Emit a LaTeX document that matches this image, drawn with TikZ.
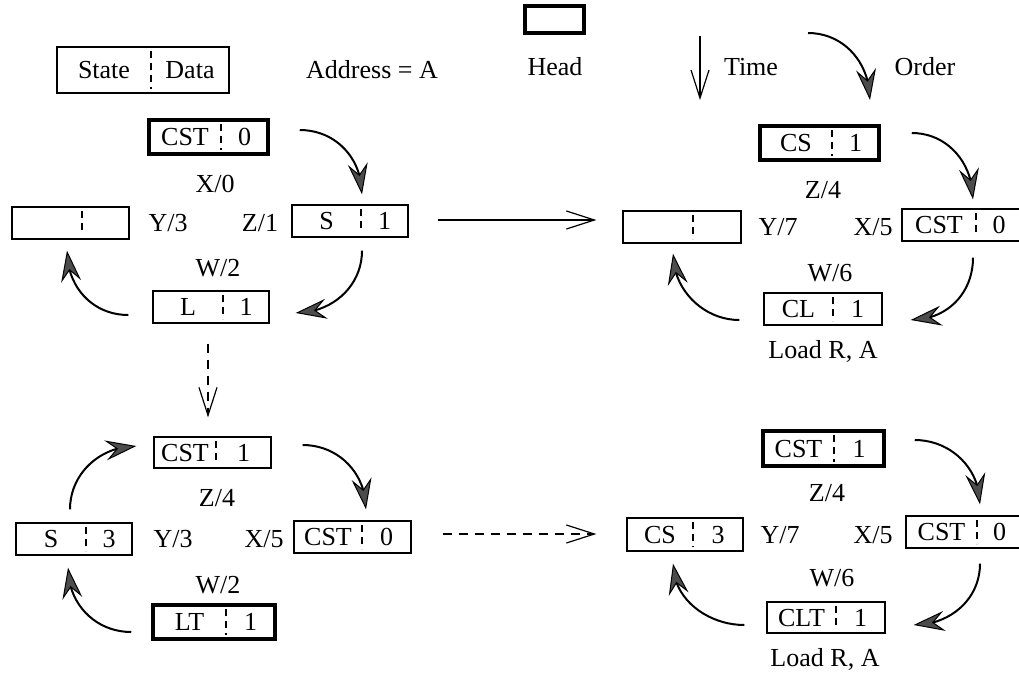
\documentclass[tikz,border=0pt]{standalone}
\usepackage{fontspec}
\setmainfont{Liberation Serif}
\usetikzlibrary{arrows.meta,bending,calc}

\tikzset{
  lbl/.style={font=\fontsize{26}{30}\selectfont, inner sep=0pt, text height=17pt, text depth=0pt},
  cell/.style={draw, line width=1.3pt, inner sep=0pt},
  headcell/.style={draw, line width=3.5pt, inner sep=0pt},
  divider/.style={line width=1.3pt, dash pattern=on 7pt off 5pt},
  cyc/.style={line width=2pt, -{Stealth[length=31pt,width=20pt,inset=11pt,fill=black!70,line width=1pt]}},
  flow/.style={line width=1.2pt, -{Straight Barb[length=28pt,width=18pt,line width=1.2pt]}},
  dflow/.style={flow, dash pattern=on 9pt off 7pt},
}

% cell: style, name, (left, right, top, bottom, divider x), state text, data text
\def\cellbox#1#2(#3,#4,#5,#6,#7)#8#9{%
  \node[#1, minimum width={#4-#3}, minimum height={#6-#5}] (#2) at ({(#3+#4)/2},{(#5+#6)/2}) {};
  \draw[divider] ({#7},{#5+4}) -- ({#7},{#6-4});
  \node[lbl] (#2-s) at ({(#3+#7)/2},{(#5+#6)/2}) {#8};
  \node[lbl] (#2-d) at ({(#7+#4)/2},{(#5+#6)/2}) {#9};
}

\begin{document}
\begin{tikzpicture}[x=1pt,y=-1pt]
\useasboundingbox (0,0) rectangle (1019,673);

% ---- key ----
\cellbox{cell}{legend}(57,229,47,93,151){State}{Data}
\node[lbl] (addr) at (372,70) {Address = A};
\node[headcell, minimum width=59, minimum height=27] (headbox) at (554.5,19.5) {};
\node[lbl] (headlbl) at (555,67) {Head};
\coordinate (time-s) at (700,36);
\coordinate (time-e) at (700,100);
\draw[flow] (time-s) -- (time-e);
\node[lbl] (timelbl) at (751,67) {Time};
\coordinate (ord-s) at (808,33);
\coordinate (ord-e) at (870,100);
\draw[cyc] (ord-s) .. controls +(36,0) and +(0,-37) .. (ord-e);
\node[lbl] (ordlbl) at (925,67) {Order};

% ---- ring 1 ----
\cellbox{headcell}{t1}(149,268,120,154,221){CST}{0}
\cellbox{cell}{l1}(12,129,207,239,82){}{}
\cellbox{cell}{r1}(292,408,205,237,361){S}{1}
\cellbox{cell}{b1}(153,269,291,323,223){L}{1}
\node[lbl] (x1) at (215,184) {X/0};
\node[lbl] (y1) at (168,223) {Y/3};
\node[lbl] (z1) at (260,223) {Z/1};
\node[lbl] (w1) at (218,268) {W/2};
\draw[cyc] ($(t1.east)+(30,-7)$) .. controls +(36,0) and +(0,-36) .. ($(r1.north)+(12,-10)$);
\draw[cyc] ($(r1.south)+(12,13)$) .. controls +(0,36) and +(36,0) .. ($(b1.east)+(26,6)$);
\draw[cyc] ($(b1.west)+(-24,8)$) .. controls +(-36,0) and +(0,36) .. ($(l1.south)+(-3.5,11)$);

% ---- ring 2 ----
\cellbox{headcell}{t2}(760,879,126,160,832){CS}{1}
\cellbox{cell}{l2}(623,741,211,243,693){}{}
\cellbox{cell}{r2}(902,1022,209,241,976){CST}{0}
\cellbox{cell}{b2}(764,882,293,325,833){CL}{1}
\node[lbl] (z2) at (823,190) {Z/4};
\node[lbl] (y2) at (778,227) {Y/7};
\node[lbl] (x2) at (873,227) {X/5};
\node[lbl] (w2) at (830,273) {W/6};
\node[lbl] (ld2) at (823,350) {Load R, A};
\draw[cyc] ($(t2.east)+(31,-10)$) .. controls +(36,0) and +(0,-36) .. ($(r2.north)+(11,-9)$);
\draw[cyc] ($(r2.south)+(11,16)$) .. controls +(0,36) and +(36,0) .. ($(b2.east)+(28,11)$);
\draw[cyc] ($(b2.west)+(-24,11)$) .. controls +(-36,0) and +(0,36) .. ($(l2.south)+(-9,10)$);

% ---- ring 3 ----
\cellbox{cell}{t3}(154,271,437,468,216){CST}{1}
\cellbox{cell}{l3}(16,132,523,555,86){S}{3}
\cellbox{cell}{r3}(294,411,521,553,362){CST}{0}
\cellbox{headcell}{b3}(153,275,605,639,226){LT}{1}
\node[lbl] (z3) at (217,498) {Z/4};
\node[lbl] (y3) at (173,539) {Y/3};
\node[lbl] (x3) at (264,539) {X/5};
\node[lbl] (w3) at (218,585) {W/2};
\draw[cyc] ($(l3.north)+(-4,-13)$) .. controls +(0,-36) and +(-36,0) .. ($(t3.west)+(-17,-6.5)$);
\draw[cyc] ($(t3.east)+(31,-7.5)$) .. controls +(36,0) and +(0,-36) .. ($(r3.north)+(13.5,-11)$);
\draw[cyc] ($(b3.west)+(-20,10)$) .. controls +(-36,0) and +(0,36) .. ($(l3.south)+(-6,12)$);

% ---- ring 4 ----
\cellbox{headcell}{t4}(763,884,431,466,834){CST}{1}
\cellbox{cell}{l4}(627,743,518,551,693){CS}{3}
\cellbox{cell}{r4}(906,1022,516,548,977){CST}{0}
\cellbox{cell}{b4}(767,885,602,633,836){CLT}{1}
\node[lbl] (z4) at (827,493) {Z/4};
\node[lbl] (y4) at (780,535) {Y/7};
\node[lbl] (x4) at (873,535) {X/5};
\node[lbl] (w4) at (832,578) {W/6};
\node[lbl] (ld4) at (825,658) {Load R, A};
\draw[cyc] ($(t4.east)+(29,-8.5)$) .. controls +(36,0) and +(0,-36) .. ($(r4.north)+(16,-11)$);
\draw[cyc] ($(r4.south)+(16,15)$) .. controls +(0,36) and +(36,0) .. ($(b4.east)+(28,7.5)$);
\draw[cyc] ($(b4.west)+(-22,7.5)$) .. controls +(-36,0) and +(0,36) .. ($(l4.south)+(-12,12)$);

% ---- transitions between rings ----
\draw[flow] ($(r1.east)+(29,-1)$) -- ($(r1.east -| l2.west)+(-26,-1)$);
\draw[dflow] ($(b1.south)+(-3,20)$) -- ($(b1.south |- t3.north)+(-3,-19)$);
\draw[dflow] ($(r3.east)+(31,-3)$) -- ($(r3.east -| l4.west)+(-30,-3)$);
\end{tikzpicture}
\end{document}
